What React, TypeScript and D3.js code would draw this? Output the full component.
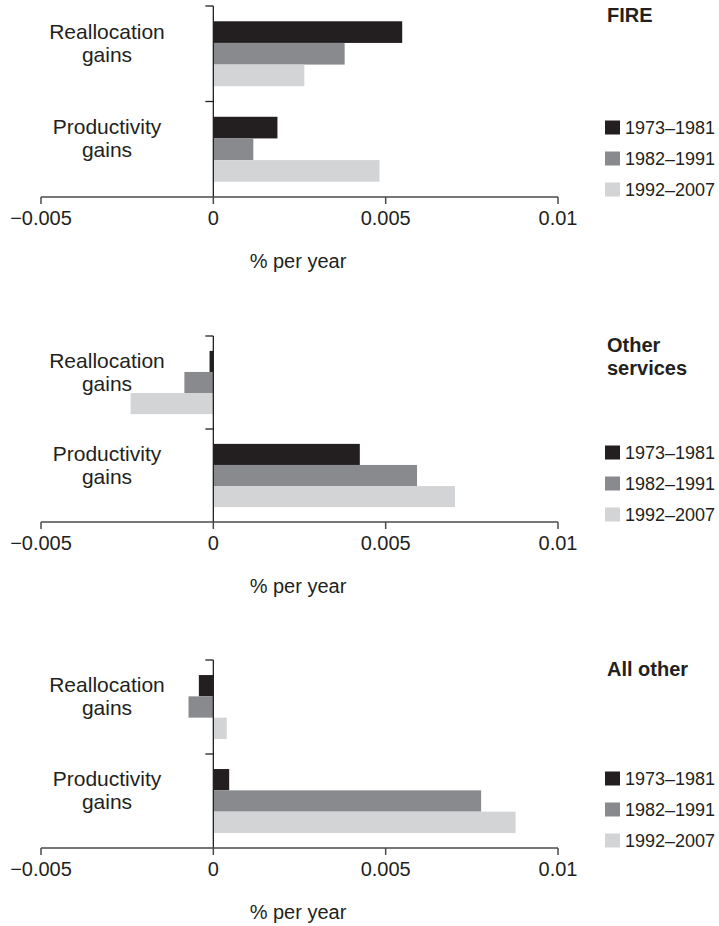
import React from 'react';
import * as d3 from 'd3';

const sectors = ['FIRE', 'Other services', 'All other'];
const sectorTitleLines = [['FIRE'], ['Other', 'services'], ['All other']];
const categories = ['Reallocation gains', 'Productivity gains'];
const categoryLines = [['Reallocation', 'gains'], ['Productivity', 'gains']];
const periods = ['1973–1981', '1982–1991', '1992–2007'];

// [category][period]
const fireValues = [
  [0.00548, 0.00381, 0.00264],
  [0.00186, 0.00116, 0.00482],
];
const otherServicesValues = [
  [-0.00011, -0.00084, -0.0024],
  [0.00425, 0.00591, 0.00701],
];
const allOtherValues = [
  [-0.00042, -0.00072, 0.00039],
  [0.00046, 0.00777, 0.00877],
];

const tickValues = [-0.005, 0, 0.005, 0.01];
const tickLabels = ['\u22120.005', '0', '0.005', '0.01'];
const axisTitle = '% per year';

const sectorValues = [fireValues, otherServicesValues, allOtherValues];
const colors = ['#231f20', '#898a8d', '#d3d4d6'];

const W = 719;
const H = 926;
const FONT = '"Liberation Sans", Arial, Helvetica, sans-serif';
const TEXT = '#231f20';

// vertical layout of each panel: top of the y axis and position of the x axis
const panels = [
  { top: 6, bottom: 197 },
  { top: 336, bottom: 522 },
  { top: 660, bottom: 848 },
];

const x = d3.scaleLinear().domain([-0.005, 0.01]).range([41, 558]);

function Panel({ index }) {
  const { top, bottom } = panels[index];
  const values = sectorValues[index];
  const y = d3
    .scaleBand()
    .domain(categories)
    .range([top, bottom])
    .paddingInner(0.32)
    .paddingOuter(0.16);
  const sub = d3.scaleBand().domain(periods).range([0, y.bandwidth()]);
  const x0 = x(0);
  const step = y.step();
  const midTick = top + step;
  const legendY = (i) => bottom - 7.5 - (periods.length - 1 - i) * 31;

  return (
    <g>
      {categories.map((cat, ci) =>
        periods.map((p, pi) => {
          const v = values[ci][pi];
          return (
            <rect
              key={cat + p}
              x={Math.min(x(v), x0)}
              y={y(cat) + sub(p)}
              width={Math.abs(x(v) - x0)}
              height={sub.bandwidth()}
              fill={colors[pi]}
            />
          );
        })
      )}

      {/* y axis */}
      <line x1={x0} x2={x0} y1={top} y2={bottom} stroke={TEXT} strokeWidth={1.3} />
      {[top, midTick].map((ty) => (
        <line key={ty} x1={x0 - 8} x2={x0} y1={ty} y2={ty} stroke={TEXT} strokeWidth={1.3} />
      ))}
      {categories.map((cat, ci) => {
        const c = y(cat) + y.bandwidth() / 2;
        return (
          <text key={cat} textAnchor="middle" fontSize={21} fill={TEXT} fontFamily={FONT}>
            <tspan x={107} y={c - 15}>{categoryLines[ci][0]}</tspan>
            <tspan x={107} y={c + 8}>{categoryLines[ci][1]}</tspan>
          </text>
        );
      })}

      {/* x axis */}
      <line x1={x(-0.005)} x2={x(0.01)} y1={bottom} y2={bottom} stroke="#4a4a4a" strokeWidth={1.5} />
      {tickValues.map((t, i) => (
        <g key={t} transform={`translate(${x(t)},${bottom})`}>
          <line y1={0} y2={7} stroke="#4a4a4a" strokeWidth={1.5} />
          <text y={27.5} textAnchor="middle" fontSize={20} fill={TEXT} fontFamily={FONT}>
            {tickLabels[i]}
          </text>
        </g>
      ))}
      <text x={298} y={bottom + 71} textAnchor="middle" fontSize={20} fill={TEXT} fontFamily={FONT}>
        {axisTitle}
      </text>

      {/* sector title */}
      <text fontSize={20} fontWeight="bold" fill={TEXT} fontFamily={FONT}>
        {sectorTitleLines[index].map((line, li) => (
          <tspan key={line} x={607} y={top + 15.5 + li * 23.5}>
            {line}
          </tspan>
        ))}
      </text>

      {/* legend */}
      {periods.map((p, pi) => (
        <g key={p} transform={`translate(605,${legendY(pi)})`}>
          <rect x={0} y={-7} width={15} height={14} fill={colors[pi]} />
          <text x={20} y={6.5} fontSize={18} fill={TEXT} fontFamily={FONT}>
            {p}
          </text>
        </g>
      ))}
    </g>
  );
}

export default function App() {
  return (
    <svg
      width={W}
      height={H}
      viewBox={`0 0 ${W} ${H}`}
      style={{ position: 'absolute', left: 0, top: 0, background: '#fff' }}
    >
      {sectors.map((s, i) => (
        <Panel key={s} index={i} />
      ))}
    </svg>
  );
}
